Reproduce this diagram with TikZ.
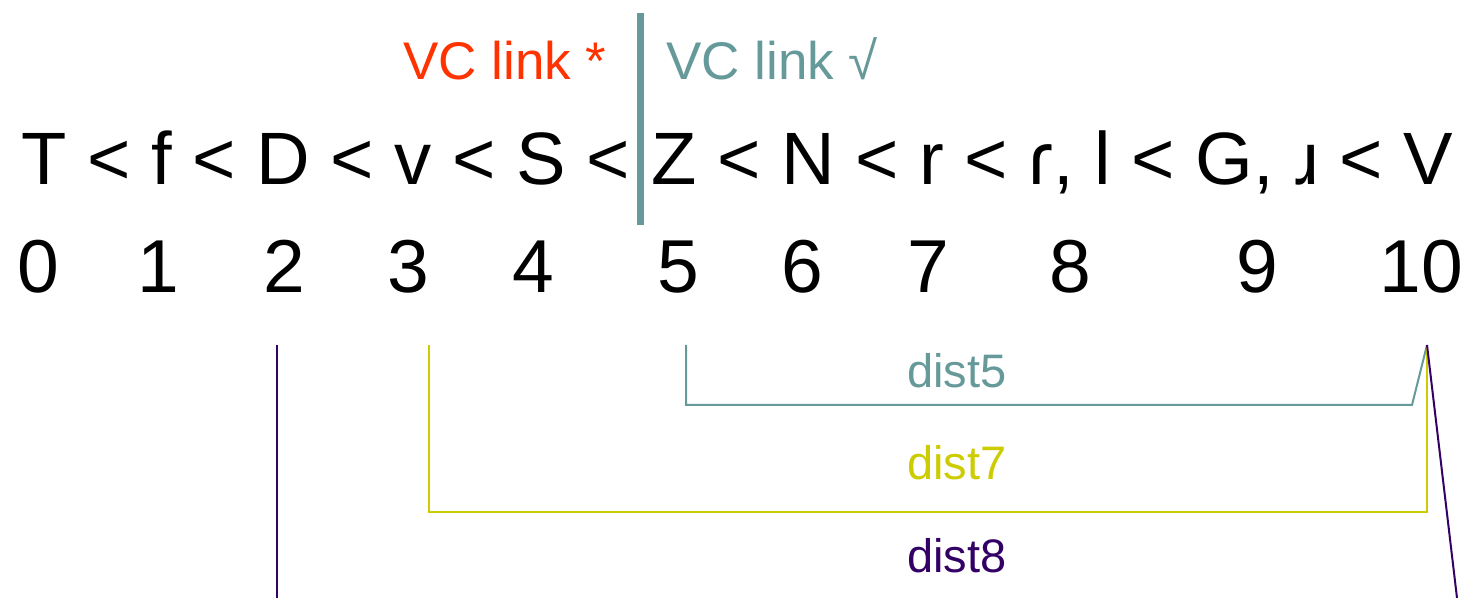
\documentclass[tikz,border=0pt]{standalone}
\usepackage{fontspec}
\setmainfont{Liberation Sans}
\definecolor{vcred}{HTML}{FF3300}
\definecolor{vcteal}{HTML}{669999}
\definecolor{vcyellow}{HTML}{CCCC00}
\definecolor{vcpurple}{HTML}{330066}
\tikzset{
  mainrow/.style={inner sep=0pt, font=\fontsize{37.1}{40}\selectfont},
  numlabel/.style={inner sep=0pt, anchor=base, font=\fontsize{37.5}{40}\selectfont},
  vclabel/.style={inner sep=0pt, anchor=base west, font=\fontsize{26.5}{30}\selectfont},
  distlabel/.style={inner sep=0pt, anchor=base, font=\fontsize{23.5}{26}\selectfont},
  distline/.style={line width=1pt}
}
\begin{document}
\begin{tikzpicture}[x=0.5pt,y=-0.5pt]
\useasboundingbox (0,0) rectangle (1468,598);
\fill[white] (0,0) rectangle (1468,598);
% top labels
\node[vclabel, text=vcred] (vcbad) at (403,80) {VC link *};
\node[vclabel, text=vcteal] (vcgood) at (666,80) {VC link √};
% divider
\coordinate (bartop) at (640,13);
\coordinate (barbot) at (640,225);
\draw[vcteal, line width=3.5pt] (bartop) -- (barbot);
% main row
\node[mainrow, anchor=base east] (left) at (630,185) {T < f < D < v < S <};
\node[mainrow, anchor=base west] (right) at (651,185) {Z < N < r < ɾ, l < G, ɹ < V};
% numbers
\node[numlabel] (n0) at (38,293) {0};
\node[numlabel] (n1) at (158,293) {1};
\node[numlabel] (n2) at (284,293) {2};
\node[numlabel] (n3) at (408,293) {3};
\node[numlabel] (n4) at (533,293) {4};
\node[numlabel] (n5) at (678,293) {5};
\node[numlabel] (n6) at (802,293) {6};
\node[numlabel] (n7) at (928,293) {7};
\node[numlabel] (n8) at (1070,293) {8};
\node[numlabel] (n9) at (1257,293) {9};
\node[numlabel] (n10) at (1421,293) {10};
% distance brackets
\coordinate (d5a) at (686,345);
\coordinate (d5b) at (686,405);
\coordinate (d5c) at (1412,405);
\coordinate (d5d) at (1427,345);
\draw[distline, vcteal] (d5a) -- (d5b) -- (d5c) -- (d5d);
\node[distlabel, text=vcteal] (l5) at (957,388) {dist5};
\coordinate (d7a) at (429,345);
\coordinate (d7b) at (429,512);
\coordinate (d7c) at (1427,512);
\coordinate (d7d) at (1427,345);
\draw[distline, vcyellow] (d7a) -- (d7b) -- (d7c) -- (d7d);
\node[distlabel, text=vcyellow] (l7) at (957,480) {dist7};
\coordinate (d8a) at (277,345);
\coordinate (d8b) at (277,598);
\coordinate (d8c) at (1427,345);
\coordinate (d8d) at (1457,598);
\draw[distline, vcpurple] (d8a) -- (d8b);
\draw[distline, vcpurple] (d8c) -- (d8d);
\node[distlabel, text=vcpurple] (l8) at (957,573) {dist8};
\end{tikzpicture}
\end{document}
